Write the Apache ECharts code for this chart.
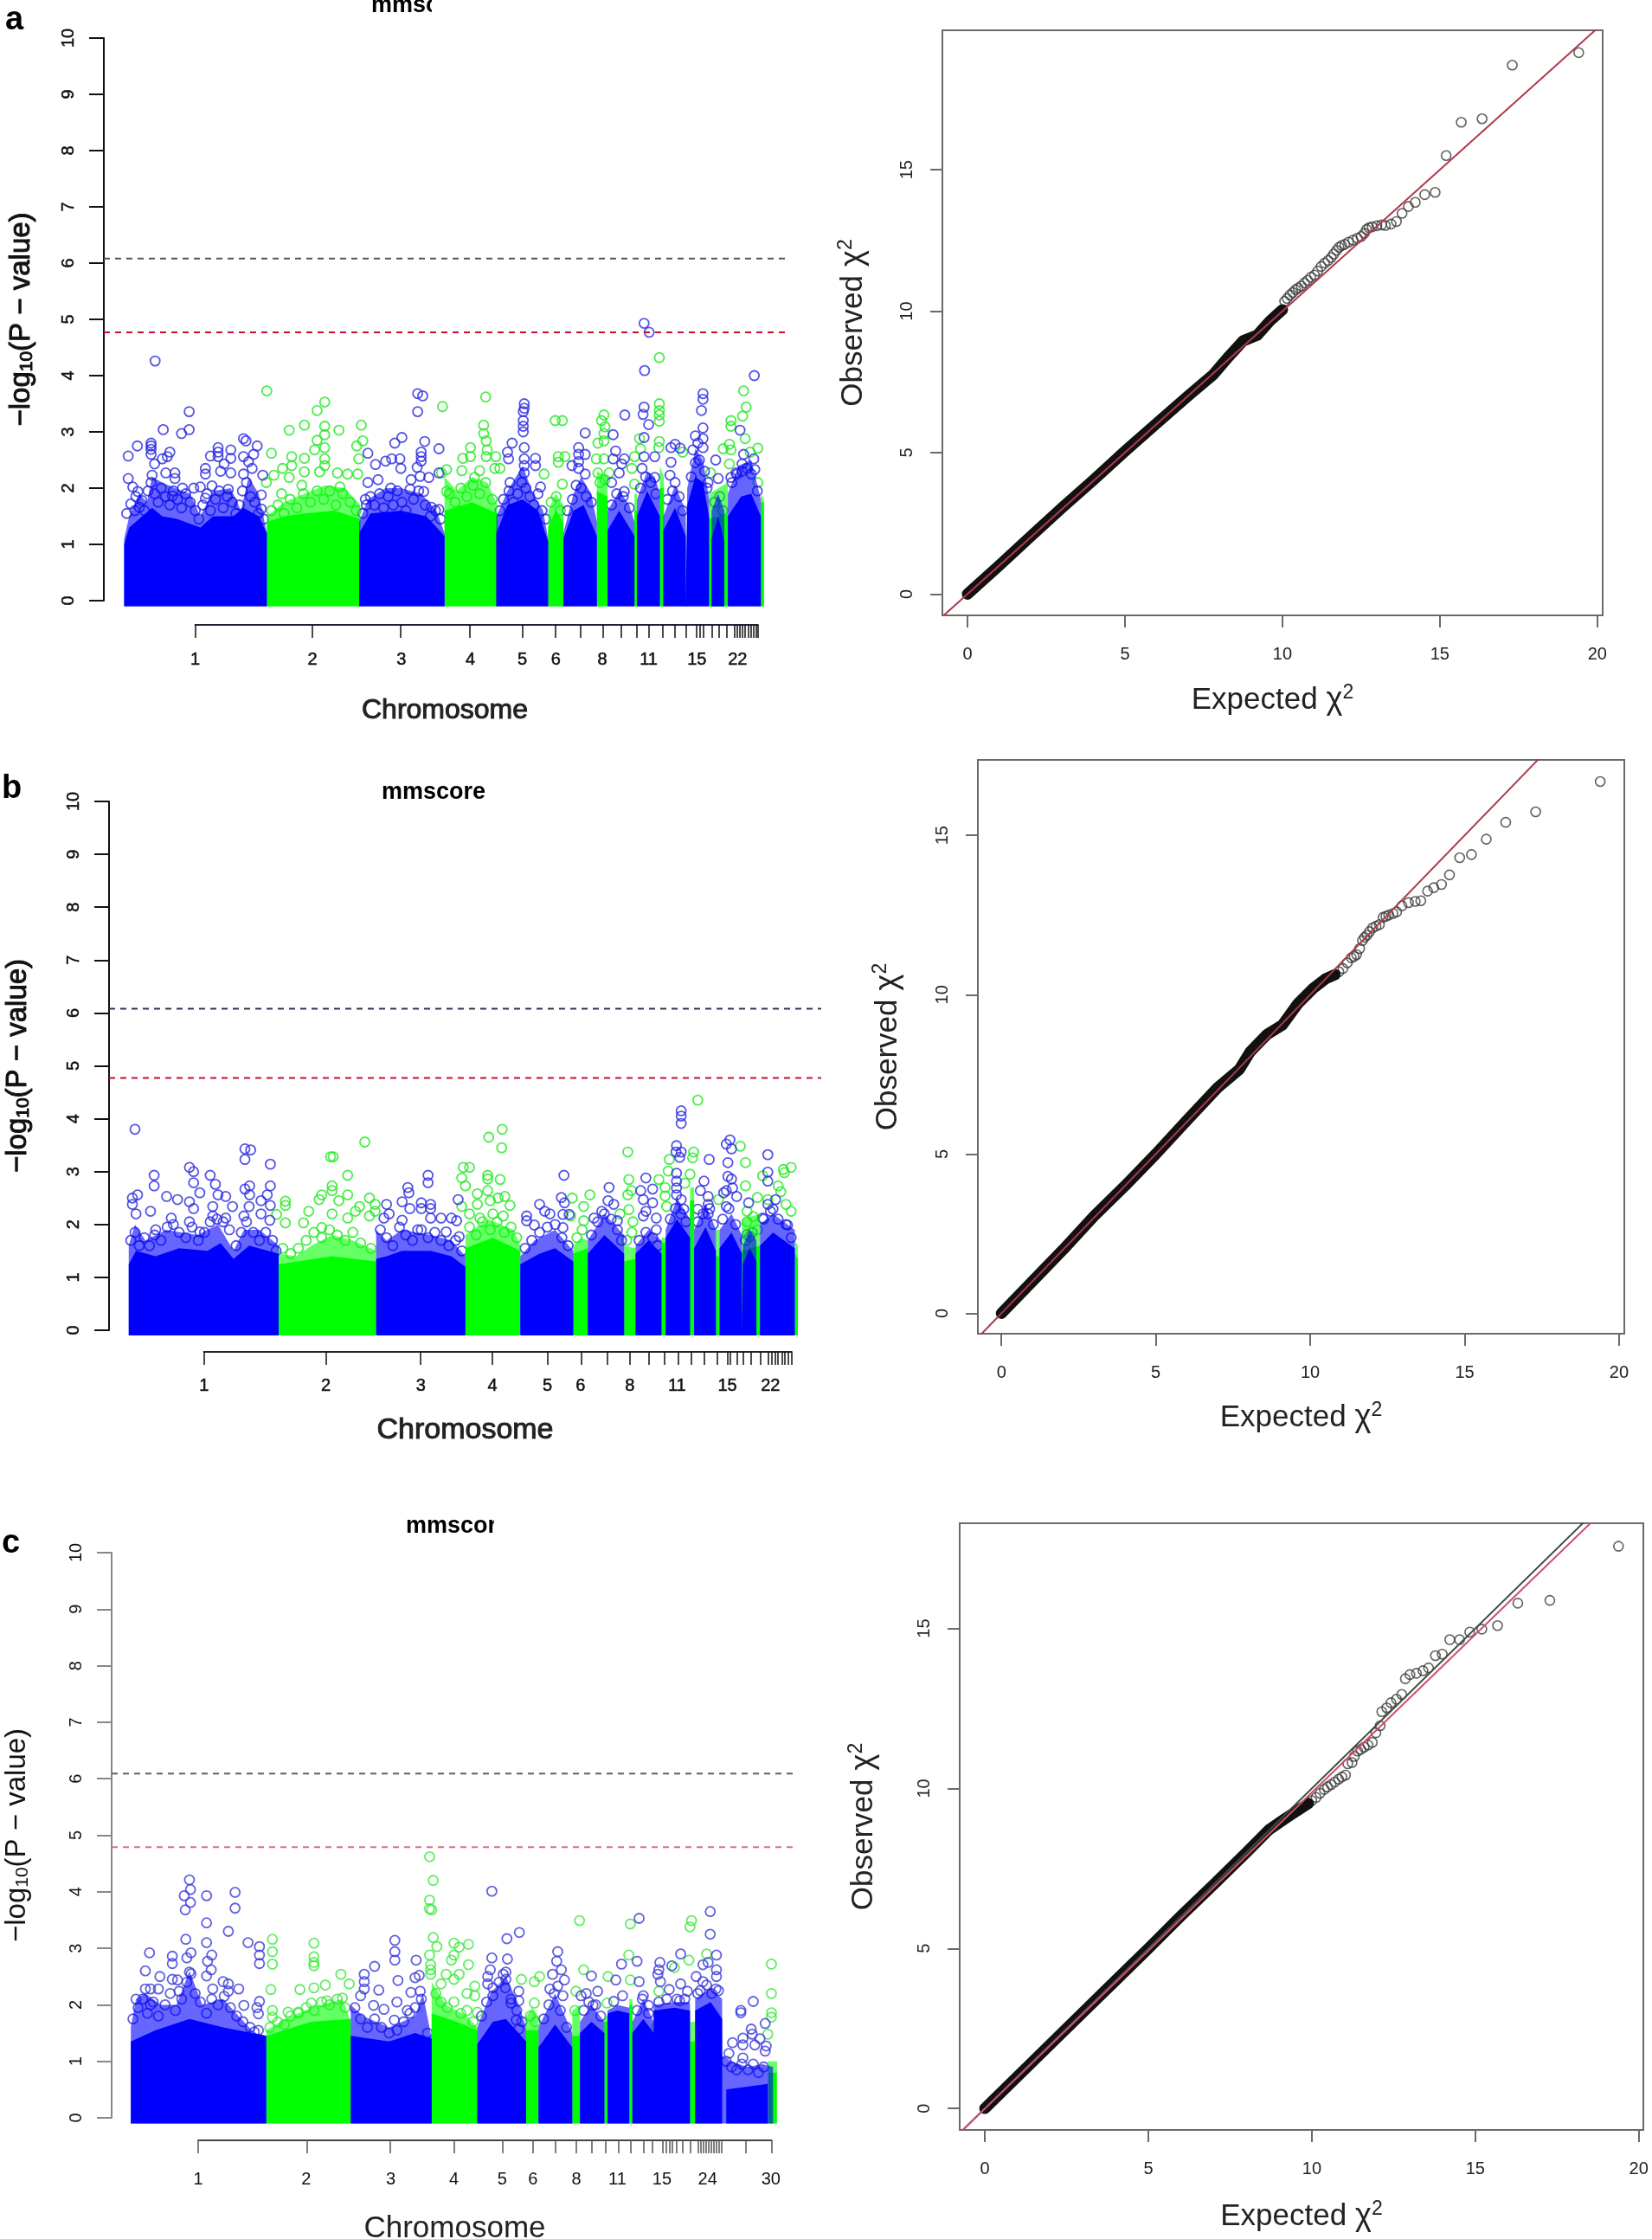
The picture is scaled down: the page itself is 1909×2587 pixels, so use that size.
<!DOCTYPE html>
<html>
<head>
<meta charset="utf-8">
<title>mmscore</title>
<style>
  html, body { margin: 0; background: #fff; }
  #main { width: 1909px; height: 2587px; }
</style>
<script src="https://cdn.jsdelivr.net/npm/echarts@6/dist/echarts.min.js"></script>
</head>
<body>
<div id="main"></div>
<script>
// ---- panel a, manhattan: [genome position, -log10 p] ----
const aThresholds = [6.08, 4.77]
const aTicks = [385,616,790,926,1030,1094,1143,1188,1224,1254,1279,1305,1330,1352,1372,1378,1385,1403,1417,1431,1447,1452,1458,1463,1468,1474,1479,1484,1489,1493]
const aLabelPos = [385,616,791,927,1029,1095,1187,1278,1373,1453]
const aLabels = ['1','2','3','4','5','6','8','11','15','22']
const aGreenDense = [
  [[526,1.5],[560,1.75],[600,1.9],[640,2.05],[680,2.0],[710,1.7]],
  [[876,2.2],[900,1.95],[930,2.2],[960,2.1],[980,1.7]],
  [[1080,1.6],[1095,1.9],[1110,1.7]],
  [[1176,2.3],[1197,2.2]],
  [[1250,1.9],[1255,1.9]],
  [[1300,2.4],[1308,2.2]],
  [[1351,1.7],[1354,1.7]],
  [[1397,1.9],[1434,2.1]],
  [[1499,1.9],[1505,1.8]]
]
const aGreenSolid = [
  [[526,1.4],[560,1.5],[600,1.55],[660,1.6],[710,1.45]],
  [[876,1.6],[930,1.75],[980,1.55]],
  [[1080,1.3],[1095,1.6],[1110,1.4]],
  [[1176,1.95],[1197,1.85]],
  [[1250,1.6],[1255,1.6]],
  [[1300,2.0],[1308,2.0]],
  [[1351,1.4],[1354,1.4]],
  [[1397,1.45],[1434,1.55]],
  [[1499,1.75],[1505,1.75]]
]
const aBlueDense = [
  [[245,1.1],[255,1.5],[275,1.9],[290,1.75],[300,2.2],[320,2.1],[345,2.0],[375,1.9],[395,1.5],[420,1.95],[455,2.0],[475,1.6],[490,2.2],[510,1.9],[526,1.2]],
  [[708,1.4],[725,1.8],[760,2.0],[790,2.0],[830,1.9],[860,1.6],[876,1.2]],
  [[978,1.5],[1000,1.95],[1030,2.4],[1050,1.9],[1070,1.6],[1080,1.1]],
  [[1110,1.2],[1130,1.9],[1145,2.2],[1165,1.9],[1176,1.4]],
  [[1197,1.6],[1220,1.95],[1240,1.7],[1250,1.4]],
  [[1255,1.8],[1275,2.3],[1290,2.2],[1300,1.9]],
  [[1307,1.5],[1330,2.05],[1351,1.6]],
  [[1354,2.0],[1370,2.7],[1385,2.5],[1397,1.8]],
  [[1402,1.6],[1415,1.9],[1427,1.6]],
  [[1434,1.9],[1455,2.4],[1480,2.5],[1499,1.8]]
]
const aBlueSolid = [
  [[245,1.0],[255,1.3],[300,1.65],[320,1.5],[350,1.45],[395,1.3],[420,1.5],[460,1.5],[480,1.65],[510,1.5],[526,1.2]],
  [[708,1.2],[730,1.55],[790,1.6],[840,1.5],[876,1.15]],
  [[978,1.2],[1000,1.7],[1030,1.8],[1060,1.6],[1080,1.05]],
  [[1110,1.1],[1130,1.6],[1150,1.7],[1176,1.15]],
  [[1197,1.25],[1220,1.6],[1250,1.15]],
  [[1255,1.5],[1275,1.95],[1300,1.5]],
  [[1307,1.25],[1330,1.65],[1351,1.15]],
  [[1354,1.7],[1370,2.2],[1385,2.1],[1397,1.5]],
  [[1402,1.1],[1415,1.5],[1427,1.05]],
  [[1434,1.5],[1460,1.85],[1480,1.9],[1499,1.5]]
]
const aGreenPts = [[526,3.73],[640,3.53],[625,3.38],[712,3.12],[600,3.12],[570,3.03],[668,3.03],[640,3.1],[640,2.95],[715,2.84],[625,2.85],[703,2.75],[535,2.62],[620,2.68],[640,2.72],[707,2.52],[575,2.56],[600,2.53],[640,2.52],[557,2.35],[575,2.4],[600,2.29],[640,2.4],[630,2.29],[665,2.27],[685,2.25],[705,2.25],[540,2.23],[570,2.19],[525,2.1],[595,2.05],[555,1.9],[670,2.02],
  [872,3.45],[957,3.62],[953,3.12],[953,2.97],[958,2.84],[927,2.72],[960,2.68],[912,2.53],[927,2.56],[958,2.56],[977,2.56],[985,2.35],[975,2.35],[880,2.33],[870,2.27],[910,2.31],[945,2.31],[935,2.19],[880,1.94],
  [1094,3.2],[1108,3.2],[1100,2.56],[1100,2.46],[1113,2.56],[1072,2.25],[1108,2.07],
  [1190,3.3],[1185,3.2],[1192,3.09],[1190,2.97],[1178,2.8],[1190,2.84],[1175,2.52],[1190,2.52],[1178,2.27],[1200,2.27],
  [1299,4.32],[1299,3.5],[1299,3.38],[1299,3.3],[1299,3.19],[1299,2.83],[1298,2.72],[1250,2.56],[1260,2.88],[1262,2.7],[1245,2.35],[1250,2.07],
  [1465,3.73],[1470,3.44],[1463,3.28],[1440,3.2],[1440,3.1],[1468,2.88],[1493,2.71],[1437,2.78],[1425,2.7],[1440,2.68],[1478,2.64],[1437,2.43],[1493,2.1],[1400,2.27],[1345,2.64],
  [535,1.6],[548,1.7],[560,1.55],[572,1.8],[585,1.65],[598,1.9],[612,1.75],[625,1.95],[638,1.8],[650,1.95],[662,1.7],[675,1.9],[690,1.75],[702,1.6],[885,1.9],[897,1.75],[908,2.0],[920,1.85],[932,2.05],[945,1.9],[957,2.1],[970,1.8],[1086,1.75],[1096,1.85],[1104,1.6],[1182,2.1],[1192,2.15]]
const aBluePts = [[306,4.26],[373,3.36],[373,3.04],[358,2.97],[322,3.04],[298,2.8],[298,2.75],[298,2.69],[298,2.6],[271,2.75],[253,2.57],[253,2.17],[335,2.64],[330,2.56],[320,2.52],[305,2.43],[300,2.23],[327,2.27],[345,2.27],[345,2.17],[360,2.0],[382,2.0],[405,2.35],[405,2.25],[415,2.57],[430,2.72],[430,2.64],[430,2.56],[455,2.68],[455,2.53],[442,2.43],[435,2.3],[455,2.27],[480,2.88],[485,2.84],[507,2.75],[480,2.56],[500,2.6],[490,2.47],[497,2.35],[480,2.25],[518,2.23],[515,1.88],[515,1.63],[262,2.02],[272,1.94],[275,1.66],[405,1.82],[450,1.98],[340,1.86],[395,2.02],[418,2.04],
  [823,3.68],[833,3.64],[823,3.36],[792,2.9],[778,2.8],[837,2.83],[865,2.7],[725,2.62],[740,2.42],[760,2.48],[772,2.52],[788,2.52],[830,2.64],[830,2.56],[830,2.48],[822,2.37],[790,2.35],[810,2.15],[828,2.21],[845,2.19],[865,2.27],[745,2.15],[725,2.1],[770,2.0],[808,1.98],[835,1.94],[720,1.8],[850,1.66],[865,1.62],
  [1033,3.5],[1033,3.42],[1031,3.36],[1031,3.2],[1031,3.1],[1031,3.0],[1033,2.72],[1009,2.8],[1000,2.64],[1002,2.52],[1033,2.52],[1033,2.4],[1033,2.27],[1055,2.53],[1055,2.4],[1005,2.1],[1065,2.02],
  [1153,2.98],[1140,2.72],[1140,2.6],[1140,2.47],[1127,2.4],[1153,2.6],[1153,2.25],[1140,2.35],
  [1231,3.3],[1208,2.95],[1213,2.66],[1208,2.52],[1230,2.52],[1225,2.43],[1220,2.27],[1205,2.1],[1230,1.94],
  [1269,4.93],[1279,4.77],[1270,4.09],[1269,3.44],[1267,3.31],[1278,3.13],[1269,2.9],[1269,2.56],[1290,2.56],[1265,2.35],[1290,2.19],
  [1330,2.78],[1322,2.72],[1340,2.71],[1322,2.46],[1320,2.23],[1330,2.1],
  [1385,3.68],[1385,3.58],[1382,3.38],[1385,3.07],[1370,2.93],[1385,2.88],[1385,2.72],[1365,2.68],[1375,2.8],
  [1410,2.5],[1415,2.17],[1395,2.1],
  [1486,4.0],[1458,3.03],[1465,2.6],[1485,2.52],[1487,2.33],[1450,2.27],[1462,2.43],[1440,2.19],
  [250,1.55],[258,1.72],[266,1.6],[268,1.85],[280,1.78],[285,1.6],[292,1.95],[298,2.1],[305,1.9],[312,1.75],[318,2.0],[326,1.85],[335,1.7],[342,1.95],[350,1.8],[358,1.65],[366,1.9],[375,1.75],[385,1.6],[392,1.45],[400,1.7],[408,1.9],[415,1.6],[425,1.8],[432,1.95],[440,1.65],[448,1.85],[458,1.75],[465,1.55],[472,1.7],[478,1.95],[486,2.1],[494,1.85],[502,1.75],[510,1.55],[520,1.45],
  [715,1.55],[722,1.7],[730,1.85],[738,1.7],[748,1.9],[756,1.65],[765,1.85],[775,1.7],[783,1.95],[792,1.75],[800,1.6],[815,1.8],[825,1.95],[838,1.7],[848,1.5],[858,1.6],[868,1.45],
  [985,1.6],[992,1.8],[1003,1.95],[1012,1.75],[1020,1.9],[1028,2.1],[1036,2.0],[1044,1.85],[1052,1.7],[1060,1.9],[1068,1.6],[1075,1.45],
  [1118,1.6],[1128,1.8],[1135,2.05],[1145,2.0],[1155,1.85],[1165,1.75],[1205,1.7],[1215,1.9],[1228,1.85],[1240,1.65],[1262,2.0],[1272,2.2],[1282,2.1],[1292,1.9],[1315,1.8],[1325,1.95],[1338,1.85],[1345,1.6],[1362,2.2],[1370,2.45],[1378,2.5],[1388,2.3],[1393,2.0],[1408,1.75],[1418,1.85],[1424,1.6],[1442,2.1],[1452,2.25],[1462,2.3],[1472,2.35],[1480,2.25],[1492,1.95]]

// ---- panel b, manhattan ----
const bThresholds = [6.08, 4.77]
const bTicks = [393,629,811,949,1055,1121,1171,1214,1250,1281,1307,1332,1358,1383,1402,1408,1420,1432,1447,1465,1480,1487,1494,1500,1507,1513,1520,1526]
const bLabelPos = [393,628,811,949,1055,1119,1214,1305,1402,1485]
const bLabels = ['1','2','3','4','5','6','8','11','15','22']
const bGreenDense = [
  [[537,1.45],[570,1.4],[600,1.6],[640,1.8],[680,1.7],[725,1.5]],
  [[897,1.8],[940,2.1],[990,1.9],[1003,1.6]],
  [[1105,1.6],[1120,1.75],[1133,1.7]],
  [[1203,1.6],[1225,1.55]],
  [[1275,1.75],[1283,1.75]],
  [[1330,2.7],[1338,2.7]],
  [[1380,1.9],[1387,1.9]],
  [[1430,2.1],[1465,2.2]],
  [[1532,1.7],[1538,1.6]]
]
const bGreenSolid = [
  [[537,1.25],[640,1.4],[725,1.3]],
  [[897,1.55],[950,1.75],[1003,1.5]],
  [[1105,1.45],[1133,1.55]],
  [[1203,1.3],[1225,1.35]],
  [[1275,1.65],[1283,1.65]],
  [[1330,2.45],[1338,2.45]],
  [[1380,1.4],[1387,1.4]],
  [[1430,1.5],[1465,1.6]],
  [[1532,1.45],[1538,1.35]]
]
const bBlueDense = [
  [[248,1.6],[260,2.0],[280,1.7],[320,1.9],[380,1.8],[420,2.0],[450,1.5],[470,1.9],[500,1.9],[537,1.6]],
  [[725,1.9],[745,1.7],[775,1.9],[830,1.8],[870,1.7],[897,1.4]],
  [[1003,1.4],[1030,1.7],[1070,1.9],[1105,1.5]],
  [[1133,1.7],[1165,2.2],[1203,1.8]],
  [[1225,1.6],[1250,1.9],[1275,1.7]],
  [[1283,1.9],[1305,2.5],[1330,2.1]],
  [[1338,1.9],[1360,2.4],[1380,1.9]],
  [[1387,1.9],[1410,2.2],[1430,1.8]],
  [[1432,1.6],[1445,1.9],[1458,1.7]],
  [[1465,2.0],[1490,2.2],[1532,1.9]]
]
const bBlueSolid = [
  [[248,1.25],[262,1.5],[300,1.4],[345,1.55],[400,1.5],[425,1.65],[450,1.35],[480,1.6],[537,1.45]],
  [[725,1.35],[745,1.4],[775,1.5],[830,1.5],[870,1.4],[897,1.2]],
  [[1003,1.25],[1040,1.45],[1070,1.55],[1105,1.3]],
  [[1133,1.45],[1165,1.8],[1203,1.45]],
  [[1225,1.45],[1250,1.7],[1275,1.45]],
  [[1283,1.75],[1305,2.1],[1330,1.75]],
  [[1338,1.55],[1360,1.95],[1380,1.5]],
  [[1387,1.55],[1410,1.85],[1430,1.45]],
  [[1432,1.25],[1445,1.55],[1458,1.3]],
  [[1465,1.6],[1490,1.85],[1532,1.55]]
]
const bGreenPts = [[703,3.56],[637,3.28],[642,3.28],[670,2.93],[640,2.73],[640,2.64],[670,2.56],[620,2.56],[615,2.47],[653,2.45],[550,2.44],[550,2.36],[595,2.25],[712,2.5],[693,2.34],[723,2.38],[723,2.25],[640,2.2],[685,2.25],[712,2.16],[533,2.19],[585,2.03],[550,2.03],[670,2.12],[620,1.94],
  [968,3.8],[942,3.65],[967,3.45],[893,3.08],[905,3.08],[890,2.88],[897,2.73],[940,2.93],[940,2.86],[964,2.85],[920,2.58],[940,2.64],[960,2.5],[973,2.53],[890,2.34],[905,2.2],[983,2.36],[920,2.38],[945,2.45],[925,2.12],[950,2.2],[970,2.16],
  [1137,2.56],[1103,2.5],[1125,2.34],[1100,2.16],[1125,2.07],
  [1210,3.37],[1212,2.85],[1210,2.56],[1217,2.64],[1195,2.2],[1212,2.28],[1220,2.05],
  [1345,4.35],[1337,3.37],[1290,3.23],[1335,3.26],[1288,3.01],[1270,2.85],[1330,2.95],[1282,2.7],[1282,2.54],[1285,2.34],[1320,2.78],
  [1427,3.48],[1437,3.17],[1437,2.73],[1525,3.08],[1510,3.04],[1512,2.98],[1470,2.92],[1500,2.73],[1505,2.62],[1460,2.51],[1440,2.25],[1525,2.25],[1515,2.38],[1385,2.47],[1480,2.47],
  [545,1.55],[560,1.45],[575,1.55],[590,1.7],[605,1.85],[620,1.75],[635,1.9],[650,1.8],[665,1.7],[680,1.85],[695,1.65],[715,1.55],[905,1.95],[918,1.8],[930,2.05],[945,1.9],[958,2.05],[972,1.85],[985,1.95],[996,1.75],[1112,1.75],[1122,1.9],[1208,1.7],[1218,1.85],[1440,2.05],[1452,2.15],[1460,1.9]]
const bBluePts = [[260,3.8],[265,2.56],[255,2.5],[255,2.38],[262,2.2],[290,2.25],[297,2.93],[297,2.73],[321,2.53],[342,2.47],[365,3.08],[373,3.0],[373,2.79],[385,2.6],[365,2.43],[373,2.3],[405,2.93],[415,2.76],[420,2.56],[435,2.53],[410,2.34],[448,2.34],[410,2.16],[472,3.43],[483,3.41],[472,3.23],[521,3.14],[481,2.73],[472,2.67],[521,2.73],[481,2.56],[503,2.45],[515,2.56],[521,2.36],[480,2.34],[470,2.16],[503,2.2],[520,2.08],[300,1.9],[330,2.12],[365,2.05],[385,1.86],[435,2.12],
  [825,2.93],[825,2.79],[786,2.7],[788,2.6],[745,2.38],[775,2.43],[812,2.41],[830,2.38],[812,2.3],[830,2.3],[883,2.47],[790,2.3],[740,2.12],[750,2.2],[775,2.08],[830,2.12],[850,2.12],[870,2.12],[880,2.07],[805,1.9],[860,1.86],[885,1.77],
  [1087,2.93],[1082,2.51],[1088,2.41],[1040,2.38],[1050,2.25],[1060,2.2],[1085,2.19],[1097,2.19],[1015,2.16],[1015,2.07],[1085,1.94],[1030,1.99],
  [1174,2.7],[1172,2.45],[1183,2.38],[1160,2.25],[1145,2.12],[1190,2.07],
  [1245,2.88],[1235,2.64],[1258,2.67],[1240,2.47],[1258,2.41],[1245,2.25],[1240,2.16],[1265,2.12],[1265,1.9],
  [1313,4.15],[1313,4.05],[1313,3.91],[1304,3.49],[1303,3.37],[1313,3.37],[1310,3.27],[1304,2.97],[1304,2.82],[1304,2.69],[1304,2.56],[1313,2.47],[1318,2.29],
  [1367,3.23],[1357,2.82],[1350,2.64],[1365,2.53],[1365,2.38],[1345,2.29],[1365,2.2],
  [1407,3.6],[1400,3.52],[1410,3.43],[1403,3.17],[1403,2.91],[1410,2.86],[1400,2.64],[1412,2.69],[1395,2.6],[1420,2.53],[1400,2.34],
  [1443,2.41],[1440,1.81],[1445,1.77],
  [1480,3.32],[1480,2.99],[1480,2.82],[1495,2.47],[1480,2.38],[1518,1.99],[1470,2.12],[1490,2.29],
  [252,1.7],[260,1.85],[268,1.6],[278,1.75],[288,1.6],[298,1.8],[310,1.7],[322,1.95],[334,2.0],[345,1.85],[358,1.75],[370,1.95],[382,1.7],[394,1.85],[405,2.05],[418,2.1],[430,2.05],[442,1.9],[455,1.6],[465,1.85],[475,2.05],[488,1.85],[500,1.7],[512,1.85],[525,1.7],[532,1.5],
  [733,1.9],[745,1.75],[757,1.6],[770,1.95],[782,1.8],[795,1.7],[812,1.9],[825,1.75],[838,1.85],[850,1.7],[865,1.6],[878,1.7],[890,1.5],
  [1012,1.55],[1025,1.7],[1040,1.85],[1055,1.95],[1070,2.0],[1083,1.75],[1095,1.6],[1140,1.8],[1152,2.05],[1165,2.2],[1178,2.1],[1190,1.9],[1198,1.7],[1232,1.7],[1245,1.85],[1258,1.75],[1268,1.6],[1292,2.1],[1302,2.3],[1312,2.2],[1322,2.05],[1345,2.05],[1355,2.2],[1368,2.3],[1375,2.0],[1393,2.1],[1405,2.3],[1418,2.0],[1437,1.7],[1450,1.85],[1472,2.1],[1485,2.25],[1500,2.1],[1515,2.0],[1525,1.75]]

// ---- panel c, manhattan ----
const cThresholds = [6.09, 4.79]
const cTicks = [382,591,752,875,968,1027,1071,1111,1141,1168,1192,1216,1240,1258,1278,1284,1290,1296,1304,1316,1330,1345,1350,1355,1360,1365,1370,1375,1380,1385,1390,1437,1487]
const cLabelPos = [382,590,753,875,968,1027,1111,1190,1276,1364,1486]
const cLabels = ['1','2','3','4','5','6','8','11','15','24','30']
const cGreenDense = [
  [[513,1.55],[550,1.75],[600,1.95],[660,2.1],[676,1.7]],
  [[832,2.4],[860,2.0],[900,1.8],[920,1.6]],
  [[1014,1.8],[1026,1.95],[1038,1.8]],
  [[1103,1.9],[1118,2.0]],
  [[1165,1.8],[1171,1.8]],
  [[1213,2.1],[1219,2.1]],
  [[1330,1.7],[1340,1.7]],
  [[1480,1.0],[1498,1.0]]
]
const cGreenSolid = [
  [[513,1.45],[600,1.7],[676,1.75]],
  [[832,1.85],[880,1.7],[920,1.55]],
  [[1014,1.55],[1038,1.55]],
  [[1103,1.45],[1118,1.45]],
  [[1165,1.7],[1171,1.7]],
  [[1213,2.0],[1219,2.0]],
  [[1330,1.35],[1340,1.35]],
  [[1482,.8],[1497,.8]]
]
const cBlueDense = [
  [[252,1.6],[262,2.1],[280,2.2],[310,2.0],[340,2.0],[365,2.6],[390,2.0],[430,2.1],[470,1.7],[490,1.5],[513,1.45]],
  [[676,2.0],[700,1.8],[750,1.6],[800,1.8],[815,2.2],[832,1.4]],
  [[920,1.6],[945,2.2],[975,2.5],[1000,2.0],[1014,1.6]],
  [[1038,1.6],[1070,2.2],[1103,1.5]],
  [[1118,1.7],[1140,2.0],[1165,1.7]],
  [[1171,1.9],[1190,2.0],[1213,1.95]],
  [[1219,1.7],[1240,2.1],[1260,1.7]],
  [[1260,2.0],[1300,2.05],[1330,2.05]],
  [[1340,2.1],[1370,2.3],[1392,2.1]],
  [[1392,1.1],[1410,1.0],[1440,.9],[1470,.95],[1490,.9]]
]
const cBlueSolid = [
  [[252,1.35],[300,1.55],[365,1.75],[430,1.6],[513,1.45]],
  [[676,1.45],[750,1.35],[800,1.5],[832,1.4]],
  [[920,1.3],[950,1.7],[975,1.75],[1014,1.35]],
  [[1038,1.25],[1070,1.65],[1103,1.25]],
  [[1118,1.5],[1140,1.7],[1165,1.5]],
  [[1171,1.85],[1190,1.9],[1213,1.85]],
  [[1219,1.5],[1240,1.75],[1260,1.5]],
  [[1260,1.9],[1300,1.95],[1330,1.9]],
  [[1340,1.9],[1370,2.05],[1392,1.75]],
  [[1400,.5],[1440,.55],[1480,.6]]
]
const cGreenPts = [[828,4.62],[835,4.2],[828,3.85],[828,3.7],[832,3.68],[835,3.19],[842,3.03],[828,2.88],[830,2.71],[830,2.62],[830,2.54],[875,3.09],[903,3.07],[885,3.02],[875,2.88],[870,2.79],[903,2.71],[860,2.54],[885,2.54],[875,2.45],[915,2.33],[900,2.2],[850,2.37],[915,2.16],[920,1.87],
  [525,3.16],[525,2.94],[525,2.72],[522,2.27],[605,3.09],[605,2.85],[605,2.75],[605,2.69],[578,2.27],[605,2.3],[627,2.35],[657,2.54],[673,2.37],[630,2.07],[600,2.03],[660,2.12],[525,1.9],[525,1.78],[555,1.87],[575,1.87],
  [1117,3.49],[1215,3.43],[1212,2.88],[1330,3.38],[1333,3.49],[1125,2.62],[1172,2.5],[1215,2.44],[1110,2.24],[1040,2.5],[1005,2.45],[1030,2.41],[1030,2.03],[1170,2.03],[1300,2.66],[1328,2.79],[1362,2.9],[1270,2.24],[1265,1.6],[1487,2.72],[1487,2.2],[1487,1.86],[1487,1.78],[1480,1.48],
  [520,1.6],[535,1.7],[548,1.65],[560,1.8],[575,1.85],[590,1.95],[605,1.9],[620,2.05],[635,2.0],[650,2.1],[665,1.95],[840,2.2],[850,2.05],[862,1.95],[875,2.05],[888,1.85],[900,1.9],[912,1.7],[1022,1.8],[1032,1.7],[1108,1.9]]
const cBluePts = [[365,4.21],[367,4.04],[355,3.93],[367,3.81],[357,3.68],[398,3.93],[453,3.99],[453,3.71],[398,3.45],[440,3.3],[358,3.16],[398,3.1],[478,3.1],[500,3.03],[500,2.88],[500,2.73],[288,2.92],[332,2.86],[332,2.73],[368,2.92],[360,2.83],[408,2.88],[400,2.77],[280,2.6],[407,2.62],[398,2.51],[308,2.5],[332,2.45],[342,2.44],[365,2.58],[430,2.41],[440,2.37],[280,2.28],[290,2.28],[305,2.28],[262,2.1],[345,2.24],[410,2.28],[440,2.24],[460,2.28],[470,1.99],[500,2.06],[495,1.95],[498,1.84],[290,2.0],[490,1.52],
  [761,3.14],[761,2.94],[761,2.79],[802,2.79],[722,2.68],[808,2.52],[800,2.48],[767,2.43],[702,2.54],[702,2.41],[702,2.28],[730,2.26],[695,2.16],[792,2.22],[810,2.24],[765,2.05],[720,1.99],[740,1.92],[785,1.9],[760,1.73],[820,1.18],
  [948,4.01],[1001,3.28],[977,3.17],[948,2.83],[978,2.81],[945,2.62],[940,2.5],[970,2.54],[940,2.37],[975,2.58],[975,2.45],[1000,2.24],[1000,2.07],[995,1.73],[1000,1.57],[950,2.16],[985,2.03],
  [1075,2.94],[1073,2.77],[1082,2.62],[1065,2.54],[1088,2.44],[1075,2.33],[1060,2.28],[1085,2.16],
  [1140,2.51],[1130,2.2],[1152,2.24],[1143,1.99],[1120,2.16],
  [1198,2.72],[1187,2.44],[1200,2.16],[1183,2.06],
  [1232,3.53],[1228,2.77],[1232,2.41],[1240,2.16],[1250,1.99],
  [1272,2.75],[1270,2.62],[1268,2.54],[1273,2.41],[1290,2.27],[1295,2.69],[1312,2.9],[1312,2.37],[1325,2.24],[1310,2.07],
  [1369,3.65],[1369,3.25],[1381,2.88],[1355,2.71],[1365,2.75],[1381,2.62],[1381,2.5],[1342,2.5],[1355,2.41],[1345,2.2],[1380,2.28],
  [1452,2.06],[1428,1.9],[1428,1.86],[1448,1.57],[1450,1.48],[1412,1.33],[1432,1.41],[1465,1.4],[1432,1.29],[1475,1.67],[1455,1.29],[1477,1.27],[1405,1.14],[1432,1.06],[1475,1.18],
  [256,1.75],[266,1.95],[275,2.1],[284,1.85],[295,2.05],[305,1.8],[318,2.0],[328,2.2],[338,1.9],[350,2.1],[360,2.4],[368,2.55],[376,2.2],[386,2.05],[398,1.85],[408,2.1],[420,2.0],[432,2.15],[444,1.95],[456,1.8],[468,1.7],[482,1.6],[498,1.55],
  [684,1.95],[695,1.75],[708,1.6],[722,1.75],[735,1.6],[750,1.5],[765,1.55],[778,1.7],[790,1.85],[800,1.95],[812,2.1],[824,1.5],
  [928,1.8],[938,2.05],[950,2.3],[962,2.4],[974,2.3],[985,2.1],[996,1.9],[1006,1.7],[1048,1.75],[1058,2.0],[1068,2.2],[1080,1.9],[1092,1.6],[1125,1.9],[1135,2.05],[1148,2.0],[1158,1.8],[1228,1.9],[1238,2.1],[1250,1.85],[1270,2.05],[1285,2.1],[1305,2.1],[1320,2.1],[1350,2.25],[1362,2.35],[1372,2.2],[1385,2.25],
  [1400,1.0],[1410,.9],[1420,.85],[1430,.95],[1442,.85],[1452,.95],[1462,.8],[1472,.9]]

// ---- qq panels: [expected, observed] ----
const qqTicksX = [0, 5, 10, 15, 20]
const qqTicksY = [0, 5, 10, 15]
const qqAMass = [[0,0],[1,1],[2,2.03],[3,3.05],[4,4.03],[5,5.05],[6,6.03],[7,7],[7.8,7.75],[8.3,8.4],[8.75,8.95],[9.2,9.15],[9.6,9.65],[10,10.05]]
const qqAPts = [[19.41,19.14],[17.3,18.7],[16.34,16.8],[15.68,16.68],[15.2,15.5],[14.85,14.2],[14.52,14.12],[14.22,13.85],[14.0,13.7],[13.8,13.46],[13.62,13.17],[13.45,13.08],[13.27,13.03],[13.0,13.02],[12.85,12.98],[12.67,12.89],[12.5,12.64],[12.24,12.51],[11.98,12.36],[11.8,12.26],[11.63,12.02],[11.45,11.79],[11.23,11.58],[11.02,11.28],[10.8,11.09],[10.6,10.89],[10.42,10.76],[10.24,10.57],[10.07,10.35],
  [13.15,13.05],[12.75,12.95],[12.6,12.75],[12.38,12.58],[12.1,12.44],[11.88,12.32],[11.72,12.15],[11.55,11.9],[11.34,11.7],[11.12,11.42],[10.9,11.2],[10.7,11.0],[10.5,10.82],[10.33,10.66],[10.15,10.45]]
const qqBMass = [[0,0],[1,1],[2,2],[3,3.05],[4,4],[5,5],[6,6.05],[7,7.08],[7.7,7.65],[8.05,8.2],[8.6,8.75],[9.1,9.05],[9.6,9.72],[10.1,10.2],[10.5,10.5],[10.8,10.63]]
const qqBPts = [[19.39,16.69],[17.3,15.74],[16.33,15.41],[15.7,14.88],[15.22,14.4],[14.84,14.3],[14.51,13.76],[14.25,13.46],[14.0,13.36],[13.8,13.25],[13.58,12.95],[13.4,12.93],[13.18,12.89],[12.97,12.79],[12.8,12.6],[12.54,12.5],[12.36,12.43],[12.24,12.2],[12.02,12.1],[11.84,11.87],[11.69,11.7],[11.5,11.26],[11.33,11.16],[11.06,10.82],[10.8,10.63],
  [12.68,12.55],[12.45,12.46],[12.13,12.15],[11.92,11.98],[11.76,11.8],[11.6,11.45],[11.42,11.2],[11.2,11.0],[10.93,10.72]]
const qqCMass = [[0,0],[1,1],[2,2],[3,3],[4,4],[5,5],[6,6.02],[7,7],[8,8],[8.7,8.72],[9.2,9.07],[9.89,9.53]]
const qqCPts = [[19.38,17.57],[17.28,15.88],[16.3,15.79],[15.68,15.09],[15.2,14.98],[14.83,14.89],[14.52,14.65],[14.22,14.65],[13.99,14.2],[13.78,14.15],[13.57,13.77],[13.4,13.68],[13.2,13.6],[13.0,13.56],[12.86,13.43],[12.75,12.94],[12.59,12.79],[12.42,12.68],[12.29,12.52],[12.14,12.4],[12.09,11.96],[11.96,11.74],[11.85,11.44],[11.6,11.29],[11.4,11.17],[11.23,10.81],[11.1,10.77],[11.03,10.42],[10.82,10.29],[10.59,10.12],[10.38,9.97],[10.13,9.72],[9.89,9.53],
  [11.72,11.36],[11.5,11.22],[11.3,11.0],[10.92,10.36],[10.7,10.2],[10.48,10.05],[10.25,9.85],[10.0,9.62]]

const FONT = 'Liberation Sans'
const BLUE = '#0000ff'
const GREEN = '#00ff00'
const FLOOR = -0.1 // the round markers hang a little under zero

const grid = [], xAxis = [], yAxis = [], series = []

function closed(blocks) {
  const out = []
  blocks.forEach(b => {
    out.push([b[0][0], FLOOR])
    b.forEach(p => out.push(p))
    out.push([b[b.length - 1][0], FLOOR])
  })
  return out
}

function areaSeries(idx, blocks, color, opacity) {
  series.push({
    type: 'line', xAxisIndex: idx, yAxisIndex: idx, data: closed(blocks), symbol: 'none', silent: true, clip: false,
    lineStyle: { width: 0, opacity: 0 },
    areaStyle: { color: color, opacity: opacity, origin: FLOOR }
  })
}

function ringSeries(idx, pts, color, size, width) {
  series.push({
    type: 'scatter', xAxisIndex: idx, yAxisIndex: idx, data: pts, symbol: 'circle', symbolSize: size, silent: true, clip: false,
    itemStyle: { color: 'rgba(0,0,0,0)', borderColor: color, borderWidth: width }
  })
}

function manhattan(p) {
  const idx = grid.length
  grid.push({ left: p.left, top: p.top, width: p.right - p.left, height: p.bottom - p.top, outerBoundsMode: 'none' })
  xAxis.push({
    type: 'value', gridIndex: idx, min: p.xMin, max: p.xMax, splitLine: { show: false },
    axisLine: { show: false, onZero: false }, axisTick: { show: false }, axisLabel: { show: false },
    name: 'Chromosome', nameLocation: 'middle', nameGap: p.chrGap,
    nameTextStyle: { fontFamily: FONT, fontSize: p.chrSize, color: '#222', textBorderColor: '#222', textBorderWidth: p.bold }
  })
  yAxis.push({
    type: 'value', gridIndex: idx, min: 0, max: 10, interval: 1, splitLine: { show: false },
    axisLine: { show: true, onZero: false, lineStyle: { color: p.axisColor, width: 2 } },
    axisTick: { show: true, length: 17, lineStyle: { color: p.axisColor, width: 2 } },
    axisLabel: { rotate: 90, margin: 31, fontFamily: FONT, fontSize: 20, color: '#111', textBorderColor: '#111', textBorderWidth: p.bold / 2 },
    name: '{a|−log}{s|10}{a|(P − value)}', nameLocation: 'middle', nameRotate: 90, nameGap: p.yGap,
    nameTextStyle: {
      rich: {
        a: { fontFamily: FONT, fontSize: 33, color: '#111', textBorderColor: '#111', textBorderWidth: p.bold },
        s: { fontFamily: FONT, fontSize: 21, color: '#111', padding: [14, 0, 0, 0], textBorderColor: '#111', textBorderWidth: p.bold }
      }
    }
  })
  areaSeries(idx, p.greenDense, GREEN, 0.6)
  areaSeries(idx, p.greenSolid, GREEN, 1)
  ringSeries(idx, p.greenPts, p.greenRing, 11, 1.8)
  areaSeries(idx, p.blueDense, BLUE, 0.6)
  areaSeries(idx, p.blueSolid, BLUE, 1)
  ringSeries(idx, p.bluePts, p.blueRing, 11, 1.8)
  p.thresholds.forEach((t, i) => {
    series.push({
      type: 'line', xAxisIndex: idx, yAxisIndex: idx, symbol: 'none', silent: true,
      data: [[p.xMin, t], [p.xMax, t]],
      lineStyle: { color: p.lineColors[i], width: 2, type: [7, 6] }
    })
  })

  // chromosome ruler under the plot, only as long as the ticks
  const ridx = grid.length
  const sx = (p.right - p.left) / (p.xMax - p.xMin)
  const first = p.ticks[0], last = p.ticks[p.ticks.length - 1]
  grid.push({ left: p.left + (first - p.xMin) * sx, width: (last - first) * sx, top: p.rulerY - 1, height: 1, outerBoundsMode: 'none' })
  xAxis.push({
    type: 'value', gridIndex: ridx, min: first, max: last, splitLine: { show: false },
    axisLine: { show: true, onZero: false, lineStyle: { color: p.rulerColor, width: 2 } },
    axisTick: { show: true, length: 15, customValues: p.ticks, lineStyle: { color: p.tickColor, width: 1.5 } },
    axisLabel: {
      customValues: p.labelPos, margin: p.rulerMargin, fontFamily: FONT, fontSize: 20, color: '#111',
      textBorderColor: '#111', textBorderWidth: p.bold / 2,
      formatter: v => p.labels[p.labelPos.indexOf(v)]
    }
  })
  yAxis.push({ type: 'value', gridIndex: ridx, min: 0, max: 1, show: false })
  series.push({ type: 'line', xAxisIndex: ridx, yAxisIndex: ridx, data: [], silent: true })
}

function qq(p) {
  const idx = grid.length
  grid.push({
    left: p.left, top: p.top, width: p.right - p.left, height: p.bottom - p.top, outerBoundsMode: 'none',
    show: true, borderColor: '#6a6a6a', borderWidth: 2, backgroundColor: 'transparent'
  })
  const chi = (txt) => txt + '   {a|χ}{s|2}'
  const rich = {
    t: { fontFamily: FONT, fontSize: 35, color: '#222' },
    a: { fontFamily: FONT, fontSize: 36, color: '#222' },
    s: { fontFamily: FONT, fontSize: 23, color: '#222', padding: [0, 0, 18, 0] }
  }
  xAxis.push({
    type: 'value', gridIndex: idx, min: p.xMin, max: p.xMax, splitLine: { show: false },
    axisLine: { show: false, onZero: false },
    axisTick: { show: true, length: 14, customValues: qqTicksX, lineStyle: { color: '#6a6a6a', width: 2 } },
    axisLabel: { customValues: qqTicksX, margin: 35, fontFamily: FONT, fontSize: 20, color: '#222' },
    name: chi('{t|Expected}'), nameLocation: 'middle', nameGap: p.xGap, nameTextStyle: { rich: rich }
  })
  yAxis.push({
    type: 'value', gridIndex: idx, min: p.yMin, max: p.yMax, splitLine: { show: false },
    axisLine: { show: false, onZero: false },
    axisTick: { show: true, length: 14, customValues: qqTicksY, lineStyle: { color: '#6a6a6a', width: 2 } },
    axisLabel: { customValues: qqTicksY, rotate: 90, margin: 31, fontFamily: FONT, fontSize: 20, color: '#222' },
    name: chi('{t|Observed}'), nameLocation: 'middle', nameRotate: 90, nameGap: p.yGap, nameTextStyle: { rich: rich }
  })
  series.push({
    type: 'line', xAxisIndex: idx, yAxisIndex: idx, data: p.mass, symbol: 'none', silent: true,
    lineStyle: { color: '#111', width: 13, cap: 'round', join: 'round' }
  })
  ringSeries(idx, p.pts, '#3a3a3a', 11, 1.6)
  p.lines.forEach(l => {
    series.push({
      type: 'line', xAxisIndex: idx, yAxisIndex: idx, data: l.data, symbol: 'none', silent: true,
      lineStyle: { color: l.color, width: 2 }
    })
  })
}

manhattan({
  left: 120, right: 908, top: 44, bottom: 694, xMin: 205, xMax: 1548,
  axisColor: '#111', rulerColor: '#223', tickColor: '#111', rulerY: 722, rulerMargin: 30,
  chrGap: 111, chrSize: 32, yGap: 78, bold: 1,
  thresholds: aThresholds, lineColors: ['#555555', '#c8102e'],
  ticks: aTicks, labelPos: aLabelPos, labels: aLabels,
  greenDense: aGreenDense, greenSolid: aGreenSolid, blueDense: aBlueDense, blueSolid: aBlueSolid,
  greenPts: aGreenPts, bluePts: aBluePts, greenRing: '#1fe81f', blueRing: '#2a2ae0'
})
manhattan({
  left: 126, right: 949, top: 926, bottom: 1537, xMin: 210, xMax: 1583,
  axisColor: '#111', rulerColor: '#223', tickColor: '#111', rulerY: 1562, rulerMargin: 29,
  chrGap: 99, chrSize: 34, yGap: 88, bold: 1,
  thresholds: bThresholds, lineColors: ['#333355', '#c8102e'],
  ticks: bTicks, labelPos: bLabelPos, labels: bLabels,
  greenDense: bGreenDense, greenSolid: bGreenSolid, blueDense: bBlueDense, blueSolid: bBlueSolid,
  greenPts: bGreenPts, bluePts: bBluePts, greenRing: '#1fe81f', blueRing: '#2a2ae0'
})
manhattan({
  left: 129, right: 922, top: 1794, bottom: 2447, xMin: 215, xMax: 1538,
  axisColor: '#888888', rulerColor: '#444', tickColor: '#555', rulerY: 2473, rulerMargin: 35,
  chrGap: 111, chrSize: 35, yGap: 92, bold: 0,
  thresholds: cThresholds, lineColors: ['#5a6070', '#d8708a'],
  ticks: cTicks, labelPos: cLabelPos, labels: cLabels,
  greenDense: cGreenDense, greenSolid: cGreenSolid, blueDense: cBlueDense, blueSolid: cBlueSolid,
  greenPts: cGreenPts, bluePts: cBluePts, greenRing: '#3ce83c', blueRing: '#3a3ad8'
})
qq({
  left: 1089, right: 1852, top: 35, bottom: 711, xMin: -0.797, xMax: 20.17, yMin: -0.753, yMax: 19.93,
  xGap: 78, yGap: 82, mass: qqAMass, pts: qqAPts,
  lines: [{ data: [[-0.8, -0.8], [20, 20]], color: '#b03a48' }]
})
qq({
  left: 1130, right: 1877, top: 878, bottom: 1541, xMin: -0.762, xMax: 20.17, yMin: -0.64, yMax: 17.37,
  xGap: 77, yGap: 83, mass: qqBMass, pts: qqBPts,
  lines: [{ data: [[-0.7, -0.7], [17.4, 17.4]], color: '#a83a48' }]
})
qq({
  left: 1109, right: 1899, top: 1760, bottom: 2461, xMin: -0.77, xMax: 20.14, yMin: -0.673, yMax: 18.29,
  xGap: 80, yGap: 90, mass: qqCMass, pts: qqCPts,
  lines: [
    { data: [[-0.7, -0.7], [18.3, 18.3]], color: '#3c4a44' },
    { data: [[-0.7, -0.7], [18.52, 18.29]], color: '#d0506a' }
  ]
})

const label = (text, x, y, size) => ({
  type: 'text', x: x, y: y, z: 50,
  style: { text: text, fontFamily: FONT, fontSize: size, fontWeight: 'bold', fill: '#000', align: 'left', verticalAlign: 'middle' }
})
const cover = (x, y, w, h) => ({ type: 'rect', z: 60, shape: { x: x, y: y, width: w, height: h }, style: { fill: '#fff' } })

const myChart = echarts.init(document.getElementById('main'))
myChart.setOption({
  animation: false,
  backgroundColor: '#fff',
  grid: grid,
  xAxis: xAxis,
  yAxis: yAxis,
  series: series,
  graphic: [
    label('a', 6, 24, 38),
    label('b', 2, 912, 38),
    label('c', 2, 1784, 38),
    label('mmscore', 429, 7, 27),
    cover(499, 0, 90, 30),
    label('mmscore', 441, 916, 27),
    label('mmscore', 469, 1764, 27),
    cover(571, 1745, 90, 40)
  ]
})
</script>
</body>
</html>
